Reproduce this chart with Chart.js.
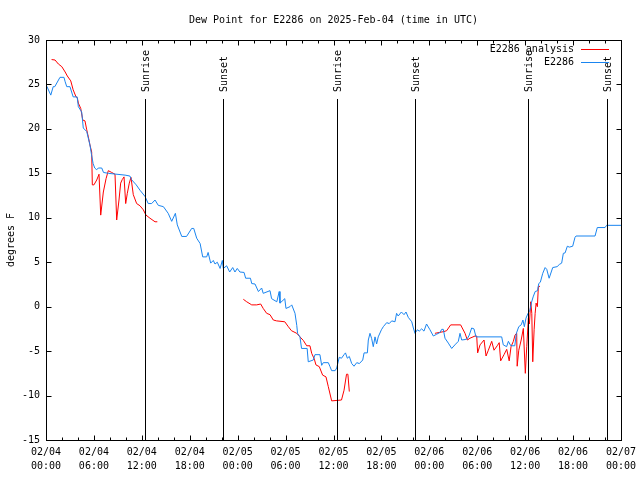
<!DOCTYPE html>
<html>
<head>
<meta charset="utf-8">
<script src="https://cdn.jsdelivr.net/npm/chart.js@4/dist/chart.umd.min.js"></script>
<style>
  html, body { margin: 0; padding: 0; background: #fff; }
  canvas { display: block; }
</style>
</head>
<body>
<canvas id="c" width="640" height="480"></canvas>
<script>
// ---- DATA (hours since 2025-02-04 00:00 UTC, dew point in degrees F) ----
const titleText = 'Dew Point for E2286 on 2025-Feb-04 (time in UTC)';
const yTitle = 'degrees F';
const dayLabels = ['02/04', '02/05', '02/06', '02/07'];
const timeLabels = ['00:00', '06:00', '12:00', '18:00'];

const obsLabel = 'E2286';
const obsHours = [0.1,0.6,0.9,1.1,1.75,2.25,2.4,2.6,3.0,3.4,3.9,4.05,4.47,4.67,5.1,5.5,5.7,5.9,6.1,6.35,6.55,6.98,7.2,7.8,9.9,10.5,10.7,11.3,11.77,12.4,12.8,13.23,13.65,14.06,14.7,15.3,15.74,16.2,16.44,17.0,17.6,18.24,18.5,18.87,
  19.3,19.62,20.12,20.3,20.62,20.95,21.16,21.45,21.8,22.08,22.2,22.62,23.0,23.38,23.66,23.95,24.28,24.8,25.0,25.6,25.76,26.17,26.6,27.0,27.2,28.05,28.25,28.9,29.2,29.3,29.9,30.05,30.55,30.77,31.18,31.4,31.5,31.8,32.0,32.7,32.84,33.47,33.68,34.3,34.52,34.72,35.35,35.56,35.77,36.2,36.4,36.72,37.0,37.32,37.5,37.73,37.98,38.28,38.57,38.91,39.24,39.66,39.83,40.24,40.36,40.57,40.78,40.98,41.2,41.4,41.6,
  42.0,42.24,42.66,42.98,43.29,43.7,43.9,44.1,44.5,44.83,45.08,45.36,45.8,46.0,46.2,46.5,46.74,47.04,47.33,47.65,48.08,48.5,48.92,49.34,49.55,49.75,49.96,50.38,50.8,51.2,51.63,51.84,52.05,52.47,52.76,53.0,53.3,53.59,53.84,57.06,57.26,57.68,57.9,58.2,58.7,58.9,59.2,59.5,59.72,59.9,60.1,60.36,60.6,60.8,61.0,61.25,61.55,61.7,61.9,62.2,62.5,62.7,63.0,63.45,64.0,64.28,64.57,64.78,65.0,65.28,65.53,65.95,66.24,66.37,68.75,69.03,70.0,70.2,71.99];
const obsDew = [24.8,23.8,24.75,24.75,25.8,25.8,25.3,24.75,24.75,23.6,23.6,22.5,21.9,20.1,19.7,18.2,17.1,16.1,15.6,15.4,15.6,15.6,15.1,15.0,14.8,14.7,14.3,13.7,13.1,12.4,11.6,11.6,12.0,11.4,11.25,10.5,9.6,10.5,9.2,7.9,7.9,8.8,8.8,7.7,
  7.1,5.6,5.6,6.1,4.9,5.2,4.8,5.0,4.3,5.2,4.3,4.6,3.9,4.4,3.9,4.3,3.9,3.85,3.2,3.2,2.6,2.55,1.7,2.1,1.5,1.8,0.9,0.55,1.7,0.4,0.9,-0.2,0,0.2,-0.75,-2.1,-3.0,-3.4,-4.7,-4.7,-6.2,-6.0,-5.4,-5.4,-6.6,-6.3,-6.3,-6.75,-7.2,-7.2,-6.9,-5.7,-5.8,-5.4,-5.2,-5.8,-5.6,-6.4,-6.7,-6.3,-6.4,-6.0,-5.2,-5.2,-3.75,-3.0,-3.6,-4.5,-3.4,-4.2,-3.4,
  -2.6,-2.25,-1.8,-1.9,-1.6,-1.7,-0.75,-1.05,-0.6,-0.9,-0.6,-1.2,-1.7,-2.4,-3.0,-2.6,-2.75,-2.5,-2.75,-1.95,-2.6,-3.3,-3.1,-2.9,-2.55,-2.55,-3.55,-4.1,-4.7,-4.3,-3.9,-3.0,-3.75,-3.7,-3.6,-3.2,-2.4,-2.5,-3.4,-3.4,-4.3,-4.5,-3.9,-4.4,-4.4,-3.0,-2.25,-2.05,-1.5,-2.25,-1.3,-0.75,-0.4,0.5,1.1,1.7,1.8,2.6,2.75,3.75,4.4,4.2,3.2,4.4,4.5,4.75,4.9,6.0,6.05,6.8,6.7,6.8,7.8,7.95,7.95,8.9,8.9,9.15,9.15];

const anaLabel = 'E2286 analysis';
const anaHours = [0.7,1.13,1.55,1.98,2.4,2.67,3.1,3.4,3.76,3.92,4.05,4.35,4.6,4.88,5.1,5.3,5.5,5.72,5.8,6.0,6.35,6.64,6.85,7.18,7.52,7.8,8.22,8.64,8.85,9.14,9.35,9.55,9.77,9.98,10.18,10.43,10.64,10.93,11.35,11.77,12.18,12.52,13.02,13.65,13.94,
  19.0,
  24.71,25.13,25.76,26.38,26.88,27.2,27.63,28.05,28.46,28.88,29.9,30.3,30.73,31.4,31.8,32.22,32.64,33.05,33.27,33.6,33.8,34.22,34.64,35.06,35.35,35.77,37.0,37.32,37.63,37.8,37.98,
  43.0,
  48.7,49.25,49.84,50.17,50.67,51.92,52.47,52.76,53.09,53.72,53.93,54.05,54.35,54.85,55.1,55.39,55.81,56.1,56.5,56.75,56.93,57.35,57.69,58.0,58.23,58.52,58.73,58.94,59.0,59.2,59.5,59.77,60.02,60.2,60.4,60.53,60.7,60.83,60.95,61.12,61.25,61.37,61.53,61.65,61.86];
const anaDew = [27.8,27.75,27.3,27.0,26.4,25.95,25.4,24.4,23.6,23.5,22.9,22.3,21.0,20.9,19.9,19.1,18.2,17.4,13.7,13.7,14.25,14.9,10.3,12.9,14.4,15.3,15.1,14.9,9.75,12.0,13.9,14.3,14.6,11.6,12.75,13.9,14.55,12.6,11.6,11.35,10.9,10.3,9.95,9.55,9.55,
  null,
  0.83,0.55,0.2,0.2,0.3,-0.2,-0.75,-0.9,-1.5,-1.6,-1.7,-2.2,-2.7,-3.0,-3.4,-3.8,-4.4,-4.4,-5.25,-5.9,-6.55,-6.75,-7.7,-7.9,-9.0,-10.6,-10.5,-9.4,-7.6,-7.6,-9.55,
  null,
  -3.0,-2.9,-2.8,-2.7,-2.05,-2.05,-3.0,-3.75,-3.55,-3.3,-3.3,-5.2,-4.3,-3.75,-5.55,-4.9,-3.9,-4.9,-4.4,-4.05,-6.1,-5.4,-4.8,-6.1,-4.5,-3.9,-3.2,-3.0,-6.7,-4.9,-3.75,-2.45,-7.5,-4.5,-1.3,-1.95,0.55,-0.75,-6.2,-2.6,-0.75,0.4,0,2.25,2.3];

const sunHours = [12.44, 22.2, 36.4, 46.25, 60.4, 70.2];
const sunLabels = ['Sunrise', 'Sunset', 'Sunrise', 'Sunset', 'Sunrise', 'Sunset'];

// ---- CHART ----
const FONT = "'DejaVu Sans Mono', 'Liberation Mono', monospace";
const toPts = (xs, ys) => xs.map((h, i) => ({ x: h, y: ys[i] }));

const whiteBg = {
  id: 'whiteBg',
  beforeDraw(chart) {
    const c = chart.ctx;
    c.save(); c.fillStyle = '#fff'; c.fillRect(0, 0, chart.width, chart.height); c.restore();
  }
};

const decorations = {
  id: 'decorations',
  afterDatasetsDraw(chart) {
    const { ctx, chartArea: a, scales: { x } } = chart;
    ctx.save();
    ctx.strokeStyle = '#000';
    ctx.lineWidth = 1;
    ctx.fillStyle = '#000';
    ctx.font = '10px ' + FONT;
    sunHours.forEach((h, i) => {
      const px = Math.round(x.getPixelForValue(h)) + 0.5;
      ctx.beginPath();
      ctx.moveTo(px, a.top + 59);
      ctx.lineTo(px, a.bottom);
      ctx.stroke();
      ctx.save();
      ctx.translate(px + 1, a.top + 52);
      ctx.rotate(-Math.PI / 2);
      ctx.textAlign = 'left';
      ctx.textBaseline = 'middle';
      ctx.fillText(sunLabels[i], 0, 0);
      ctx.restore();
    });
    ctx.restore();
  },
  afterDraw(chart) {
    const { ctx, chartArea: a, scales: { x, y } } = chart;
    ctx.save();
    ctx.strokeStyle = '#000';
    ctx.lineWidth = 1;
    const L = Math.round(a.left) + 0.5, R = Math.round(a.right) + 0.5;
    const T = Math.round(a.top) + 0.5, B = Math.round(a.bottom) + 0.5;
    ctx.strokeRect(L, T, R - L, B - T);
    ctx.beginPath();
    for (let v = x.min; v <= x.max; v += 2) {
      const px = Math.round(x.getPixelForValue(v)) + 0.5;
      const len = (v % 6 === 0) ? 5 : 3;
      ctx.moveTo(px, B); ctx.lineTo(px, B - len);
      ctx.moveTo(px, T); ctx.lineTo(px, T + len);
    }
    y.ticks.forEach(t => {
      const py = Math.round(y.getPixelForValue(t.value)) + 0.5;
      ctx.moveTo(L, py); ctx.lineTo(L + 5, py);
      ctx.moveTo(R, py); ctx.lineTo(R - 5, py);
    });
    ctx.stroke();
    // legend
    ctx.font = '10px ' + FONT;
    ctx.textAlign = 'right';
    ctx.textBaseline = 'middle';
    ctx.fillStyle = '#000';
    const order = [1, 0];
    order.forEach((di, row) => {
      const ds = chart.data.datasets[di];
      const ly = Math.round(a.top + 9 + row * 13) + 0.5;
      ctx.fillText(ds.label, a.right - 47, ly);
      ctx.strokeStyle = ds.borderColor;
      ctx.beginPath();
      ctx.moveTo(a.right - 40, ly);
      ctx.lineTo(a.right - 12, ly);
      ctx.stroke();
    });
    ctx.restore();
  }
};

new Chart(document.getElementById('c'), {
  type: 'line',
  data: {
    datasets: [
      {
        label: obsLabel,
        data: toPts(obsHours, obsDew),
        borderColor: '#1a85f0',
        borderWidth: 1,
        pointRadius: 0,
        tension: 0,
        fill: false,
        order: 0
      },
      {
        label: anaLabel,
        data: toPts(anaHours, anaDew),
        borderColor: '#ff0000',
        borderWidth: 1,
        pointRadius: 0,
        tension: 0,
        fill: false,
        spanGaps: false,
        order: 1
      }
    ]
  },
  options: {
    responsive: false,
    animation: false,
    devicePixelRatio: 1,
    layout: { padding: { left: 0, right: 19, top: 0, bottom: 0 } },
    plugins: {
      legend: { display: false },
      tooltip: { enabled: false },
      title: {
        display: true,
        text: titleText,
        color: '#000',
        fullSize: false,
        font: { family: FONT, size: 10, weight: 'normal', lineHeight: 1.2 },
        padding: { top: 14, bottom: 14 }
      }
    },
    scales: {
      x: {
        type: 'linear',
        min: 0,
        max: 72,
        grid: { display: false, drawTicks: false },
        border: { display: false },
        afterFit(s) { s.height = 40; s.paddingLeft = 0; s.paddingRight = 0; },
        ticks: {
          stepSize: 6,
          autoSkip: false,
          maxRotation: 0,
          padding: 5,
          color: '#000',
          font: { family: FONT, size: 10, lineHeight: 1.45 },
          callback(v) {
            const d = Math.floor(v / 24);
            const t = Math.round((v % 24) / 6);
            return [dayLabels[d], timeLabels[t]];
          }
        }
      },
      y: {
        min: -15,
        max: 30,
        grid: { display: false, drawTicks: false },
        border: { display: false },
        afterFit(s) { s.width = 46; s.paddingTop = 0; s.paddingBottom = 0; },
        title: {
          display: true,
          text: yTitle,
          color: '#000',
          font: { family: FONT, size: 10 },
          padding: { top: 5, bottom: 0 }
        },
        ticks: {
          stepSize: 5,
          padding: 6,
          color: '#000',
          font: { family: FONT, size: 10 }
        }
      }
    }
  },
  plugins: [whiteBg, decorations]
});
</script>
</body>
</html>
